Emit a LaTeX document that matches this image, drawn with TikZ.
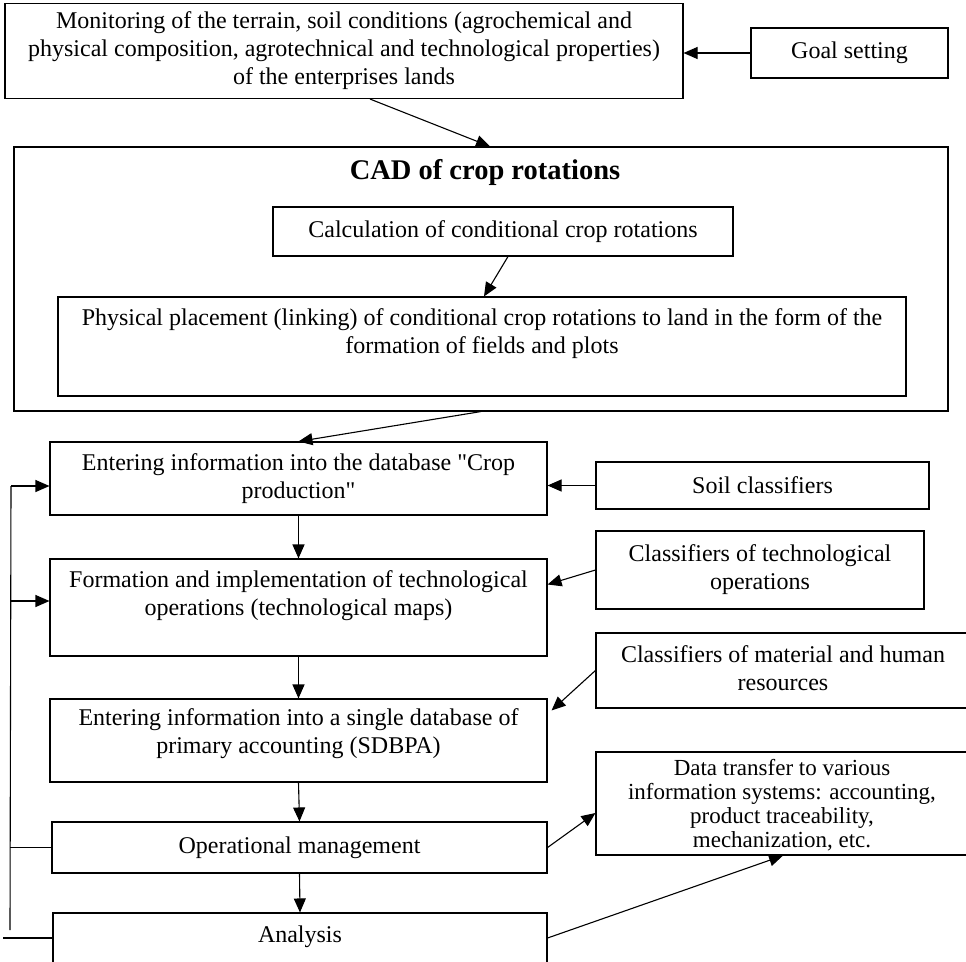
\documentclass[tikz,border=0pt]{standalone}
\usepackage{fontspec}
\setmainfont{Liberation Serif}
\usetikzlibrary{arrows.meta}
\newcommand\straightq{\XeTeXglyph\XeTeXcharglyph"22\relax}
\begin{document}
\begin{tikzpicture}[x=1pt,y=-1pt,
  box/.style={draw, line width=1.1pt, inner sep=0pt, align=center, font=\fontsize{24}{28}\selectfont},
  txt/.style={inner sep=0pt, align=center, font=\fontsize{24}{28}\selectfont},
  arr/.style={line width=1.1pt, -{Triangle[length=14pt,width=12pt]}},
  ln/.style={line width=1.1pt}]
\useasboundingbox (0,0) rectangle (966,961);
\clip (0,0) rectangle (966,961);
\fill[white] (0,0) rectangle (966,961);

\node[box, minimum width=678pt, minimum height=95pt] (mon) at (344,51) {Monitoring of the terrain, soil conditions (agrochemical and\\physical composition, agrotechnical and technological properties)\\of the enterprises lands};
\node[box, minimum width=197pt, minimum height=50pt] (goal) at (849.5,53) {Goal setting};

\node[box, minimum width=934pt, minimum height=264pt] (cad) at (481,279) {};
\node[txt, font=\bfseries\fontsize{28.5}{32}\selectfont] (cadT) at (485,172) {CAD of crop rotations};
\node[box, minimum width=460pt, minimum height=49pt] (calc) at (503,231.5) {Calculation of conditional crop rotations};
\node[box, minimum width=848pt, minimum height=99pt] (phys) at (482,346.5) {};
\node[txt] (physT) at (482,334) {Physical placement (linking) of conditional crop rotations to land in the form of the\\formation of fields and plots};

\node[box, minimum width=497pt, minimum height=73pt] (ent1) at (298.5,478.5) {Entering information into the database \straightq Crop\\production\straightq};
\node[box, minimum width=333pt, minimum height=47pt] (soil) at (762.5,485.5) {Soil classifiers};
\node[box, minimum width=497pt, minimum height=97pt] (form) at (298.5,607.5) {};
\node[txt] (formT) at (298.5,596) {Formation and implementation of technological\\operations (technological maps)};
\node[box, minimum width=328pt, minimum height=78pt] (ctech) at (760,570) {Classifiers of technological\\operations};
\node[box, minimum width=497pt, minimum height=83pt] (ent2) at (298.5,740.5) {};
\node[txt] (ent2T) at (298.5,734) {Entering information into a single database of\\primary accounting (SDBPA)};
\node[box, minimum width=374pt, minimum height=75pt] (cmat) at (783,670.5) {};
\node[txt] (cmatT) at (783,668) {Classifiers of material and human\\resources};
\node[box, minimum width=374pt, minimum height=103pt] (data) at (783,803.5) {};
\node[txt, font=\fontsize{23}{24}\selectfont] (dataT) at (782,805) {Data transfer to various\\information systems: accounting,\\product traceability,\\mechanization, etc.};
\node[box, minimum width=495pt, minimum height=51pt] (op) at (299.5,847.5) {Operational management};
\node[box, minimum width=494pt, minimum height=50pt] (ana) at (300,938) {};
\node[txt] (anaT) at (300,937) {Analysis};

\coordinate (fbT) at (11,486);
\coordinate (fbM) at (11,601);
\coordinate (fbB) at (10,930);
\coordinate (fbE) at (3,938);

\draw[arr] (goal.west) -- (goal.west -| mon.east);
\draw[arr] ([xshift=26pt]mon.south) -- ([xshift=9pt]cad.north);
\draw[arr] ([xshift=5pt]calc.south) -- ([xshift=2pt]phys.north);
\draw[arr] (cad.south) -- (ent1.north);
\draw[arr] (soil.west) -- (soil.west -| ent1.east);
\draw[arr] (ent1.south) -- (form.north);
\draw[arr] (ctech.west) -- ([yshift=23pt]form.east);
\draw[arr] (form.south) -- (ent2.north);
\draw[arr] (cmat.west) -- ([xshift=4pt,yshift=-12pt]ent2.north east);
\draw[arr] (ent2.south) -- (op.north);
\draw[arr] (op.east) -- ([yshift=-9.5pt]data.west);
\draw[arr] (op.south) -- (ana.north);
\draw[arr] (ana.east) -- (data.south);

\draw[ln] (ana.west) -- (fbE);
\draw[ln] (fbB) -- (fbT);
\draw[ln] (op.west) -- (op.west -| fbB);
\draw[arr] (fbT) -- (fbT -| ent1.west);
\draw[arr] (fbM) -- (fbM -| form.west);
\end{tikzpicture}
\end{document}
